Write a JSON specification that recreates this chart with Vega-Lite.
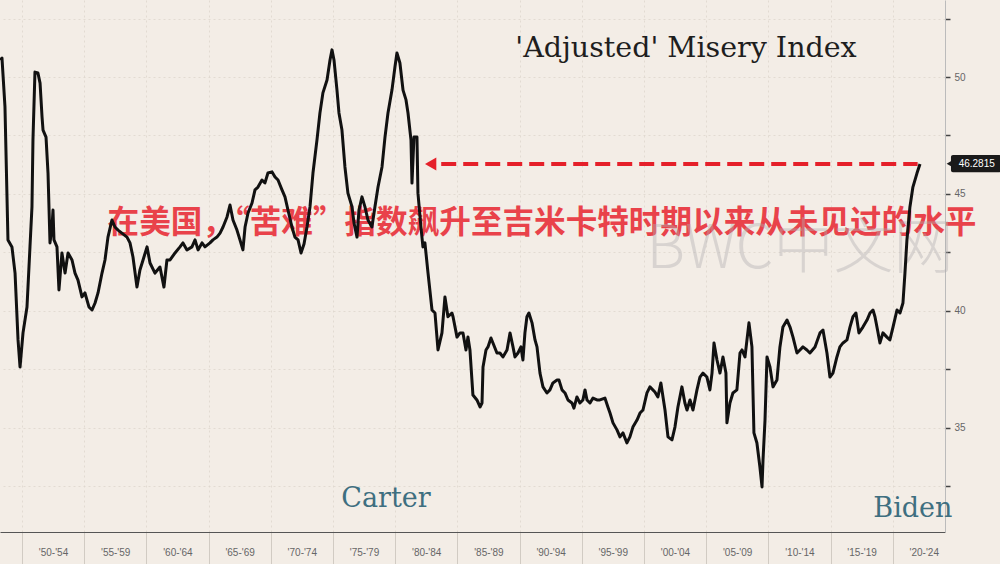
{
  "$schema": "https://vega.github.io/schema/vega-lite/v6.json",
  "width": 945,
  "height": 532,
  "autosize": {"type": "none"},
  "padding": {"left": 0, "top": 0, "right": 55, "bottom": 32},
  "background": "#f3ede6",
  "config": {
    "view": {"stroke": null},
    "axis": {"labelFont": "Liberation Sans", "labelColor": "#666", "labelFontSize": 10}
  },
  "datasets": {
    "misery": [
      {"year": 1948.23, "value": 50.73}, {"year": 1948.39, "value": 50.81}, {"year": 1948.63, "value": 48.72},
      {"year": 1948.87, "value": 43.03}, {"year": 1949.19, "value": 42.73}, {"year": 1949.44, "value": 41.61},
      {"year": 1949.68, "value": 38.75}, {"year": 1949.84, "value": 37.59}, {"year": 1950.08, "value": 39.05},
      {"year": 1950.40, "value": 40.16}, {"year": 1950.64, "value": 42.73}, {"year": 1950.80, "value": 44.44},
      {"year": 1950.88, "value": 47.30}, {"year": 1951.04, "value": 50.21}, {"year": 1951.28, "value": 50.17},
      {"year": 1951.45, "value": 49.74}, {"year": 1951.61, "value": 48.29}, {"year": 1951.69, "value": 47.73},
      {"year": 1951.93, "value": 47.43}, {"year": 1952.09, "value": 45.89}, {"year": 1952.25, "value": 42.90},
      {"year": 1952.41, "value": 43.58}, {"year": 1952.49, "value": 44.31}, {"year": 1952.57, "value": 43.03},
      {"year": 1952.81, "value": 42.73}, {"year": 1952.97, "value": 40.89}, {"year": 1953.21, "value": 42.47},
      {"year": 1953.46, "value": 41.61}, {"year": 1953.70, "value": 42.47}, {"year": 1954.02, "value": 42.17},
      {"year": 1954.26, "value": 41.61}, {"year": 1954.50, "value": 41.31}, {"year": 1954.82, "value": 40.59},
      {"year": 1955.06, "value": 40.76}, {"year": 1955.38, "value": 40.16}, {"year": 1955.63, "value": 40.03},
      {"year": 1955.87, "value": 40.33}, {"year": 1956.11, "value": 40.76}, {"year": 1956.43, "value": 41.61},
      {"year": 1956.67, "value": 42.17}, {"year": 1956.91, "value": 43.15}, {"year": 1957.23, "value": 43.88},
      {"year": 1957.47, "value": 43.58}, {"year": 1957.72, "value": 43.45}, {"year": 1958.44, "value": 43.15},
      {"year": 1958.68, "value": 42.90}, {"year": 1958.92, "value": 42.30}, {"year": 1959.24, "value": 41.01},
      {"year": 1959.48, "value": 41.74}, {"year": 1959.73, "value": 42.17}, {"year": 1960.05, "value": 42.73},
      {"year": 1960.29, "value": 42.04}, {"year": 1960.69, "value": 41.61}, {"year": 1961.09, "value": 41.87},
      {"year": 1961.41, "value": 41.01}, {"year": 1961.65, "value": 42.17}, {"year": 1961.90, "value": 42.17},
      {"year": 1962.30, "value": 42.47}, {"year": 1962.70, "value": 42.73}, {"year": 1962.94, "value": 42.90},
      {"year": 1963.26, "value": 42.60}, {"year": 1963.66, "value": 42.73}, {"year": 1963.91, "value": 43.03},
      {"year": 1964.15, "value": 42.60}, {"year": 1964.47, "value": 42.90}, {"year": 1964.71, "value": 42.73},
      {"year": 1965.11, "value": 42.90}, {"year": 1965.35, "value": 43.03}, {"year": 1965.67, "value": 43.15},
      {"year": 1965.92, "value": 43.32}, {"year": 1966.16, "value": 43.58}, {"year": 1966.48, "value": 44.01},
      {"year": 1966.72, "value": 44.52}, {"year": 1966.96, "value": 43.88}, {"year": 1967.28, "value": 43.45},
      {"year": 1967.52, "value": 43.03}, {"year": 1967.76, "value": 42.60}, {"year": 1967.93, "value": 43.58},
      {"year": 1968.17, "value": 44.18}, {"year": 1968.49, "value": 44.61}, {"year": 1968.73, "value": 45.17},
      {"year": 1968.97, "value": 45.29}, {"year": 1969.29, "value": 45.59}, {"year": 1969.53, "value": 45.47},
      {"year": 1969.77, "value": 45.89}, {"year": 1970.10, "value": 45.94}, {"year": 1970.34, "value": 45.72},
      {"year": 1970.58, "value": 45.59}, {"year": 1970.90, "value": 45.17}, {"year": 1971.14, "value": 44.87},
      {"year": 1971.38, "value": 44.31}, {"year": 1971.70, "value": 43.58}, {"year": 1971.94, "value": 43.15},
      {"year": 1972.19, "value": 43.03}, {"year": 1972.43, "value": 42.47}, {"year": 1972.67, "value": 42.85},
      {"year": 1972.91, "value": 43.58}, {"year": 1973.15, "value": 44.44}, {"year": 1973.39, "value": 45.89},
      {"year": 1973.71, "value": 47.30}, {"year": 1973.95, "value": 48.46}, {"year": 1974.19, "value": 49.32},
      {"year": 1974.52, "value": 49.87}, {"year": 1974.76, "value": 50.73}, {"year": 1974.92, "value": 51.16},
      {"year": 1975.08, "value": 50.73}, {"year": 1975.32, "value": 49.44}, {"year": 1975.48, "value": 48.46},
      {"year": 1975.72, "value": 47.73}, {"year": 1975.96, "value": 46.15}, {"year": 1976.20, "value": 45.03},
      {"year": 1976.53, "value": 44.44}, {"year": 1976.69, "value": 43.75}, {"year": 1976.93, "value": 43.15},
      {"year": 1977.09, "value": 44.31}, {"year": 1977.33, "value": 44.87}, {"year": 1977.57, "value": 44.44},
      {"year": 1977.81, "value": 43.88}, {"year": 1978.13, "value": 43.58}, {"year": 1978.37, "value": 44.44},
      {"year": 1978.62, "value": 45.29}, {"year": 1978.94, "value": 46.15}, {"year": 1979.18, "value": 47.43},
      {"year": 1979.42, "value": 48.46}, {"year": 1979.74, "value": 49.44}, {"year": 1979.98, "value": 50.43},
      {"year": 1980.14, "value": 51.03}, {"year": 1980.38, "value": 50.60}, {"year": 1980.63, "value": 49.44},
      {"year": 1980.87, "value": 49.02}, {"year": 1981.03, "value": 48.46}, {"year": 1981.27, "value": 47.30},
      {"year": 1981.35, "value": 45.46}, {"year": 1981.51, "value": 47.43}, {"year": 1981.75, "value": 47.43},
      {"year": 1981.83, "value": 45.03}, {"year": 1982.07, "value": 43.58}, {"year": 1982.23, "value": 42.73},
      {"year": 1982.39, "value": 42.90}, {"year": 1982.64, "value": 41.61}, {"year": 1982.96, "value": 40.03},
      {"year": 1983.20, "value": 39.90}, {"year": 1983.44, "value": 38.32}, {"year": 1983.76, "value": 39.05},
      {"year": 1984.00, "value": 40.59}, {"year": 1984.24, "value": 39.74}, {"year": 1984.56, "value": 39.90},
      {"year": 1984.65, "value": 39.74}, {"year": 1984.97, "value": 38.87}, {"year": 1985.21, "value": 39.05},
      {"year": 1985.45, "value": 39.05}, {"year": 1985.69, "value": 38.32}, {"year": 1985.85, "value": 38.87},
      {"year": 1986.01, "value": 38.32}, {"year": 1986.17, "value": 37.03}, {"year": 1986.25, "value": 36.39},
      {"year": 1986.57, "value": 36.18}, {"year": 1986.82, "value": 35.88}, {"year": 1986.98, "value": 36.05},
      {"year": 1987.06, "value": 37.59}, {"year": 1987.30, "value": 38.32}, {"year": 1987.46, "value": 38.45},
      {"year": 1987.70, "value": 38.83}, {"year": 1987.86, "value": 38.62}, {"year": 1988.18, "value": 38.19},
      {"year": 1988.42, "value": 38.19}, {"year": 1988.66, "value": 38.02}, {"year": 1988.99, "value": 38.32},
      {"year": 1989.23, "value": 39.05}, {"year": 1989.47, "value": 38.45}, {"year": 1989.63, "value": 38.02},
      {"year": 1989.87, "value": 38.19}, {"year": 1990.11, "value": 38.45}, {"year": 1990.27, "value": 37.89},
      {"year": 1990.43, "value": 39.05}, {"year": 1990.59, "value": 39.74}, {"year": 1990.75, "value": 39.90},
      {"year": 1991.00, "value": 39.48}, {"year": 1991.24, "value": 38.75}, {"year": 1991.40, "value": 38.45},
      {"year": 1991.64, "value": 37.33}, {"year": 1991.88, "value": 36.74}, {"year": 1992.20, "value": 36.48},
      {"year": 1992.44, "value": 36.61}, {"year": 1992.68, "value": 36.91}, {"year": 1993.01, "value": 37.03},
      {"year": 1993.17, "value": 37.03}, {"year": 1993.41, "value": 36.61}, {"year": 1993.65, "value": 36.48},
      {"year": 1993.89, "value": 36.18}, {"year": 1994.21, "value": 36.05}, {"year": 1994.37, "value": 35.83},
      {"year": 1994.61, "value": 36.31}, {"year": 1994.85, "value": 36.05}, {"year": 1995.09, "value": 36.18},
      {"year": 1995.26, "value": 36.61}, {"year": 1995.42, "value": 36.18}, {"year": 1995.66, "value": 36.05},
      {"year": 1995.90, "value": 36.26}, {"year": 1996.22, "value": 36.18}, {"year": 1996.46, "value": 36.18},
      {"year": 1996.86, "value": 36.26}, {"year": 1997.10, "value": 35.88}, {"year": 1997.27, "value": 35.62},
      {"year": 1997.51, "value": 35.20}, {"year": 1997.83, "value": 34.90}, {"year": 1998.07, "value": 34.60},
      {"year": 1998.31, "value": 34.77}, {"year": 1998.63, "value": 34.34}, {"year": 1998.87, "value": 34.60},
      {"year": 1999.11, "value": 35.02}, {"year": 1999.44, "value": 35.32}, {"year": 1999.68, "value": 35.62},
      {"year": 1999.92, "value": 35.75}, {"year": 2000.24, "value": 36.48}, {"year": 2000.48, "value": 36.74},
      {"year": 2000.88, "value": 36.52}, {"year": 2001.12, "value": 36.31}, {"year": 2001.36, "value": 36.91},
      {"year": 2001.53, "value": 36.31}, {"year": 2001.69, "value": 35.75}, {"year": 2001.93, "value": 34.60},
      {"year": 2002.25, "value": 34.47}, {"year": 2002.49, "value": 35.02}, {"year": 2002.73, "value": 35.88},
      {"year": 2003.05, "value": 36.74}, {"year": 2003.29, "value": 36.05}, {"year": 2003.46, "value": 35.75},
      {"year": 2003.70, "value": 36.18}, {"year": 2003.94, "value": 35.75}, {"year": 2004.26, "value": 36.61},
      {"year": 2004.50, "value": 37.16}, {"year": 2004.74, "value": 37.33}, {"year": 2005.06, "value": 37.16},
      {"year": 2005.30, "value": 36.61}, {"year": 2005.47, "value": 37.33}, {"year": 2005.63, "value": 38.62},
      {"year": 2005.87, "value": 37.89}, {"year": 2006.11, "value": 37.33}, {"year": 2006.35, "value": 38.02},
      {"year": 2006.59, "value": 37.33}, {"year": 2006.67, "value": 35.20}, {"year": 2006.91, "value": 36.05},
      {"year": 2007.15, "value": 36.48}, {"year": 2007.47, "value": 36.61}, {"year": 2007.72, "value": 38.19},
      {"year": 2007.88, "value": 38.32}, {"year": 2008.12, "value": 38.02}, {"year": 2008.28, "value": 38.75},
      {"year": 2008.44, "value": 39.48}, {"year": 2008.68, "value": 38.45}, {"year": 2008.84, "value": 34.77},
      {"year": 2009.08, "value": 34.34}, {"year": 2009.32, "value": 33.31}, {"year": 2009.49, "value": 32.46},
      {"year": 2009.57, "value": 33.61}, {"year": 2009.73, "value": 35.32}, {"year": 2009.89, "value": 38.02},
      {"year": 2010.13, "value": 37.59}, {"year": 2010.37, "value": 36.74}, {"year": 2010.69, "value": 37.03},
      {"year": 2010.93, "value": 38.45}, {"year": 2011.17, "value": 39.30}, {"year": 2011.50, "value": 39.60},
      {"year": 2011.74, "value": 39.30}, {"year": 2011.98, "value": 38.87}, {"year": 2012.30, "value": 38.19},
      {"year": 2012.54, "value": 38.32}, {"year": 2012.78, "value": 38.45}, {"year": 2013.10, "value": 38.32},
      {"year": 2013.34, "value": 38.19}, {"year": 2013.75, "value": 38.45}, {"year": 2014.15, "value": 39.05},
      {"year": 2014.39, "value": 39.17}, {"year": 2014.71, "value": 38.19}, {"year": 2014.95, "value": 37.16},
      {"year": 2015.19, "value": 37.33}, {"year": 2015.51, "value": 38.02}, {"year": 2015.75, "value": 38.45},
      {"year": 2016.00, "value": 38.62}, {"year": 2016.32, "value": 38.75}, {"year": 2016.56, "value": 39.30},
      {"year": 2016.80, "value": 39.74}, {"year": 2017.04, "value": 39.90}, {"year": 2017.28, "value": 39.05},
      {"year": 2017.60, "value": 39.30}, {"year": 2017.93, "value": 39.60}, {"year": 2018.17, "value": 39.90},
      {"year": 2018.41, "value": 40.03}, {"year": 2018.57, "value": 39.74}, {"year": 2018.73, "value": 39.30},
      {"year": 2018.97, "value": 38.62}, {"year": 2019.21, "value": 39.05}, {"year": 2019.53, "value": 38.87},
      {"year": 2019.77, "value": 38.75}, {"year": 2020.02, "value": 39.30}, {"year": 2020.34, "value": 40.03},
      {"year": 2020.58, "value": 39.90}, {"year": 2020.82, "value": 40.33}, {"year": 2020.98, "value": 41.61},
      {"year": 2021.14, "value": 43.03}, {"year": 2021.38, "value": 44.44}, {"year": 2021.62, "value": 45.29},
      {"year": 2021.95, "value": 45.89}, {"year": 2022.19, "value": 46.28}
    ]
  },
  "layer": [
    {
      "data": {"values": [{"year": 1991.8, "value": 43.7, "label": "在美国，“苦难”指数飙升至吉米卡特时期以来从未见过的水平"}]},
      "mark": {"type": "text", "font": "Noto Sans CJK SC", "fontWeight": "bold", "fontSize": 31.6, "color": "#e8303a", "opacity": 0.9, "align": "center", "baseline": "middle"},
      "encoding": {
        "x": {"field": "year", "type": "quantitative", "scale": {"domain": [1948.23, 2024.2], "nice": false, "zero": false},
          "axis": {"values": [1950, 1955, 1960, 1965, 1970, 1975, 1980, 1985, 1990, 1995, 2000, 2005, 2010, 2015, 2020],
            "labelExpr": "{'1950':\"'50-'54\",'1955':\"'55-'59\",'1960':\"'60-'64\",'1965':\"'65-'69\",'1970':\"'70-'74\",'1975':\"'75-'79\",'1980':\"'80-'84\",'1985':\"'85-'89\",'1990':\"'90-'94\",'1995':\"'95-'99\",'2000':\"'00-'04\",'2005':\"'05-'09\",'2010':\"'10-'14\",'2015':\"'15-'19\",'2020':\"'20-'24\"}[''+datum.value]",
            "labelOffset": 31, "labelPadding": -17, "labelAlign": "center", "title": null,
            "tickSize": 32, "tickColor": "#c8c2ba", "tickWidth": 0.8,
            "domainColor": "#555", "domainWidth": 1,
            "grid": true, "gridColor": "#ddd6cd", "gridDash": [2, 3], "gridWidth": 0.8}},
        "y": {"field": "value", "type": "quantitative", "scale": {"domain": [30.53, 53.295], "nice": false, "zero": false},
          "axis": {"orient": "right", "values": [32.5, 35, 37.5, 40, 42.5, 45, 47.5, 50, 52.5],
            "labelExpr": "datum.value % 5 == 0 ? datum.label : ''",
            "title": null, "tickSize": 5, "tickColor": "#444", "tickWidth": 1.5, "labelPadding": 4,
            "domainColor": "#bbb", "domainWidth": 1,
            "grid": true, "gridColor": "#ddd6cd", "gridDash": [2, 3], "gridWidth": 0.8}},
        "text": {"field": "label"}
      }
    },
    {
      "data": {"values": [{"year": 2012.54, "value": 42.6, "label": "BWC中文网"}]},
      "mark": {"type": "text", "font": "Noto Sans CJK SC", "fontSize": 60, "fontWeight": 300, "color": "#b0aeb0", "opacity": 0.4, "align": "center", "baseline": "middle"},
      "encoding": {
        "x": {"field": "year", "type": "quantitative"},
        "y": {"field": "value", "type": "quantitative"},
        "text": {"field": "label"}
      }
    },
    {
      "data": {"name": "misery"},
      "mark": {"type": "line", "color": "#111", "strokeWidth": 3, "strokeJoin": "round"},
      "encoding": {
        "x": {"field": "year", "type": "quantitative"},
        "y": {"field": "value", "type": "quantitative"}
      }
    },
    {
      "data": {"values": [{"start": 1983.7, "end": 2022.0, "value": 46.28}]},
      "mark": {"type": "rule", "color": "#e5202a", "strokeWidth": 4, "strokeDash": [15, 7]},
      "encoding": {
        "x": {"field": "start", "type": "quantitative"},
        "x2": {"field": "end"},
        "y": {"field": "value", "type": "quantitative"}
      }
    },
    {
      "data": {"values": [{"year": 1982.85, "value": 46.28}]},
      "mark": {"type": "point", "shape": "triangle-left", "filled": true, "color": "#e5202a", "size": 170, "opacity": 1},
      "encoding": {
        "x": {"field": "year", "type": "quantitative"},
        "y": {"field": "value", "type": "quantitative"}
      }
    },
    {
      "data": {"values": [{"x1": 2024.68, "x2": 2028.7, "lo": 45.92, "hi": 46.66}]},
      "mark": {"type": "rect", "color": "#1a1a1a", "cornerRadius": 2},
      "encoding": {
        "x": {"field": "x1", "type": "quantitative"},
        "x2": {"field": "x2"},
        "y": {"field": "lo", "type": "quantitative"},
        "y2": {"field": "hi"}
      }
    },
    {
      "data": {"values": [{"year": 2024.6, "value": 46.29}]},
      "mark": {"type": "point", "shape": "triangle-left", "filled": true, "color": "#1a1a1a", "size": 60, "opacity": 1},
      "encoding": {
        "x": {"field": "year", "type": "quantitative"},
        "y": {"field": "value", "type": "quantitative"}
      }
    },
    {
      "data": {"values": [{"year": 2026.75, "value": 46.29, "label": "46.2815"}]},
      "mark": {"type": "text", "font": "Liberation Sans", "fontSize": 10, "color": "#ffffff", "align": "center", "baseline": "middle"},
      "encoding": {
        "x": {"field": "year", "type": "quantitative"},
        "y": {"field": "value", "type": "quantitative"},
        "text": {"field": "label"}
      }
    },
    {
      "data": {"values": [{"year": 2003.38, "value": 50.86, "label": "'Adjusted' Misery Index"}]},
      "mark": {"type": "text", "font": "DejaVu Serif", "fontSize": 28.5, "color": "#1e1e1e", "align": "center", "baseline": "alphabetic"},
      "encoding": {
        "x": {"field": "year", "type": "quantitative"},
        "y": {"field": "value", "type": "quantitative"},
        "text": {"field": "label"}
      }
    },
    {
      "data": {"values": [{"year": 1979.26, "value": 31.6, "label": "Carter"}, {"year": 2021.62, "value": 31.17, "label": "Biden"}]},
      "mark": {"type": "text", "font": "DejaVu Serif", "fontSize": 27, "color": "#3e6f80", "align": "center", "baseline": "alphabetic"},
      "encoding": {
        "x": {"field": "year", "type": "quantitative"},
        "y": {"field": "value", "type": "quantitative"},
        "text": {"field": "label"}
      }
    }
  ]
}
